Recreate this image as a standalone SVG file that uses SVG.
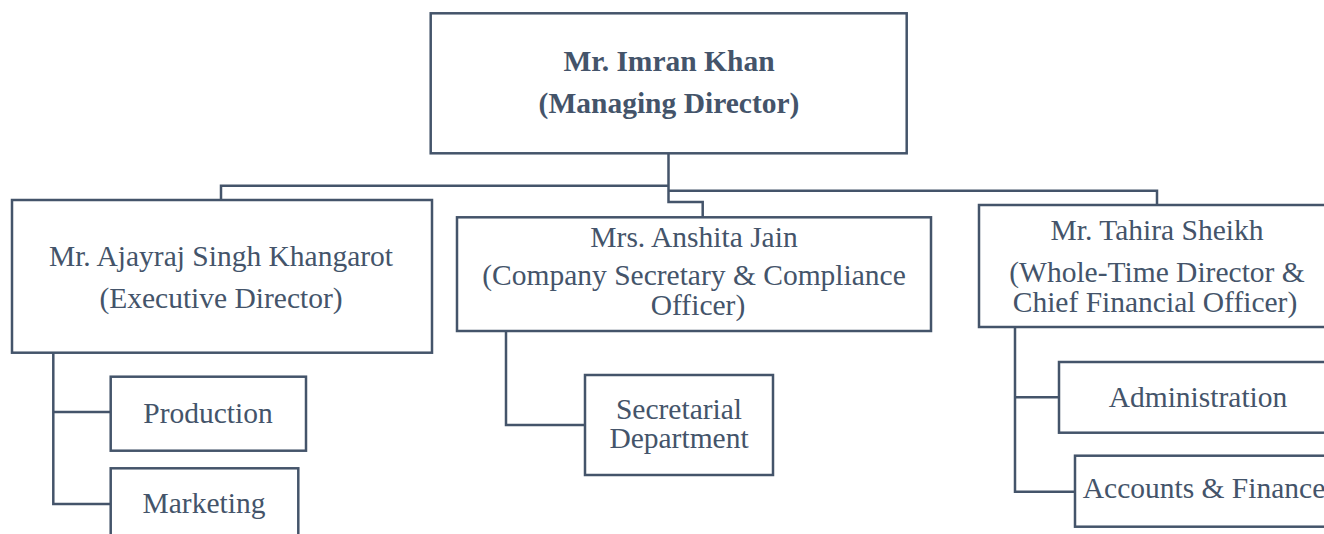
<svg xmlns="http://www.w3.org/2000/svg" width="1324" height="534" viewBox="0 0 1324 534">
<style>
.box{fill:#ffffff;stroke:#44546A;stroke-width:2.5}
.con{fill:none;stroke:#44546A;stroke-width:2.5}
text{font-family:"Liberation Serif","Times New Roman",serif;font-size:29.5px;fill:#44546A;text-anchor:middle}
.b{font-weight:bold}
</style>
<rect width="1324" height="534" fill="#ffffff"/>
<g id="connectors">
<path class="con" d="M668.5 153.3 V202 H702.7 V217.3"/>
<path class="con" d="M668.5 185.7 H221 V200"/>
<path class="con" d="M668.5 190.7 H1157 V205"/>
<path class="con" d="M53.3 352.7 V504 H110.7 M53.3 412 H110.7"/>
<path class="con" d="M506 331 V425 H585"/>
<path class="con" d="M1015 327 V491.7 H1075 M1015 397.3 H1059"/>
</g>
<g id="md">
<rect class="box" x="430.7" y="13.3" width="476" height="140"/>
<text class="b" x="669" y="71">Mr. Imran Khan</text>
<text class="b" x="669" y="113">(Managing Director)</text>
</g>
<g id="ed">
<rect class="box" x="12" y="200" width="420" height="152.7"/>
<text x="221" y="265.5">Mr. Ajayraj Singh Khangarot</text>
<text x="221" y="308">(Executive Director)</text>
</g>
<g id="cs">
<rect class="box" x="457" y="217.3" width="474" height="113.7"/>
<text x="694" y="246.7">Mrs. Anshita Jain</text>
<text x="694" y="285">(Company Secretary &amp; Compliance</text>
<text x="698" y="314.5">Officer)</text>
</g>
<g id="cfo">
<rect class="box" x="979" y="205" width="360" height="122"/>
<text x="1157" y="240">Mr. Tahira Sheikh</text>
<text x="1157" y="281.7">(Whole-Time Director &amp;</text>
<text x="1155" y="311.7">Chief Financial Officer)</text>
</g>
<g id="production">
<rect class="box" x="110.7" y="376.7" width="195.3" height="74"/>
<text x="208" y="422.7">Production</text>
</g>
<g id="marketing">
<rect class="box" x="110.7" y="468.3" width="187.6" height="80"/>
<text x="204" y="512.7">Marketing</text>
</g>
<g id="secretarial">
<rect class="box" x="585" y="375" width="188" height="100"/>
<text x="679" y="419">Secretarial</text>
<text x="679" y="448">Department</text>
</g>
<g id="administration">
<rect class="box" x="1059" y="362" width="300" height="70.7"/>
<text x="1198" y="406.7">Administration</text>
</g>
<g id="accounts">
<rect class="box" x="1075" y="455.7" width="300" height="71"/>
<text x="1204" y="498">Accounts &amp; Finance</text>
</g>
</svg>
